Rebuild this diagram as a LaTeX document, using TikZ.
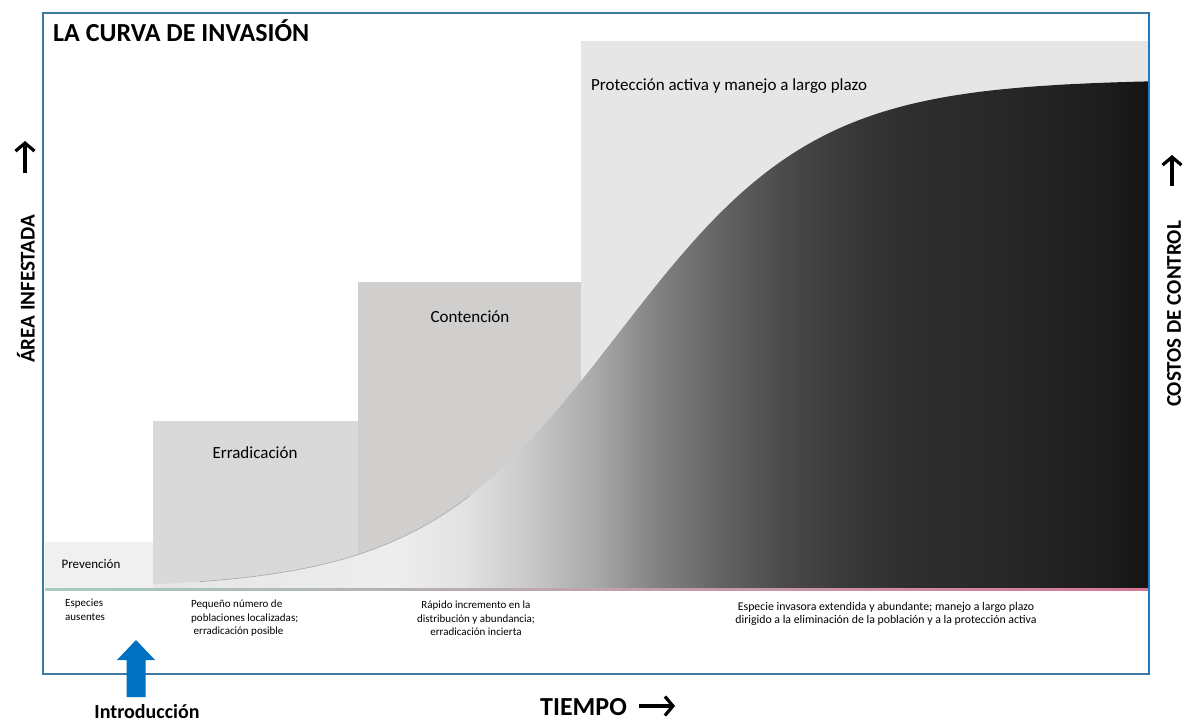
\documentclass[tikz,border=0pt]{standalone}
\usepackage{fontspec}
\setmainfont{Carlito}
\usetikzlibrary{arrows.meta}
\definecolor{frameblue}{RGB}{60,122,160}
\definecolor{rightblue}{RGB}{31,119,200}
\definecolor{introblue}{RGB}{0,112,192}
\definecolor{prevgray}{RGB}{240,240,240}
\definecolor{errgray}{RGB}{217,217,217}
\definecolor{contgray}{RGB}{208,207,206}
\definecolor{protgray}{RGB}{230,230,230}
\definecolor{sepleft}{RGB}{165,205,190}
\definecolor{sepmid}{RGB}{205,225,140}
\definecolor{sepright}{RGB}{215,120,150}
\pgfdeclarehorizontalshading{invasion}{100bp}{gray(0bp)=(0.90); gray(25bp)=(0.90); gray(37.3bp)=(0.93); gray(40.5bp)=(0.89); gray(43.8bp)=(0.79); gray(47.05bp)=(0.67); gray(50.3bp)=(0.51); gray(53.5bp)=(0.39); gray(56.75bp)=(0.29); gray(60bp)=(0.22); gray(63.25bp)=(0.18); gray(66.5bp)=(0.16); gray(69.7bp)=(0.14); gray(73bp)=(0.11); gray(75bp)=(0.08); gray(100bp)=(0.08)}
\tikzset{
  titlefont/.style={inner sep=0pt, font=\bfseries\fontsize{26}{30}\selectfont},
  stagefont/.style={inner sep=0pt, font=\fontsize{17}{20}\selectfont},
  prevfont/.style={inner sep=0pt, font=\fontsize{13}{15}\selectfont},
  smallfont/.style={inner sep=0pt, font=\fontsize{11}{13.5}\selectfont},
  axisfont/.style={inner sep=0pt, font=\bfseries\fontsize{21}{25}\selectfont},
  blackarrow/.style={line width=3.2pt, -{Straight Barb[length=8pt,width=19pt]}},
}
\begin{document}
\begin{tikzpicture}[x=1pt,y=-1pt]
\useasboundingbox (0,0) rectangle (1188,723);
% stage boxes
\fill[protgray] (581,41) rectangle (1148,589);
\fill[contgray] (358,282) rectangle (581,589);
\fill[errgray] (153,421) rectangle (358,589);
\fill[prevgray] (45,542) rectangle (153,589);
% invasion curve
\shade[shading=invasion] (153,589) -- plot[domain=153:1148,samples=160,variable=\t] ({\t},{589-510/(1+exp(-0.0101*(\t-618)))}) -- (1148,589) -- cycle;
\draw[gray!70, line width=0.6pt] plot[domain=200:470,samples=60,variable=\t] ({\t},{589-510/(1+exp(-0.0101*(\t-618)))});
% separator
\shade[left color=sepleft, middle color=sepmid, right color=sepright] (45,588) rectangle (1148,590.5);
% frame
\draw[frameblue, line width=1.6pt] (43,13) rectangle (1149,674);
\draw[rightblue, line width=2pt] (1149,13) -- (1149,674);
% texts
\node[titlefont, anchor=base west] (title) at (53,41) {LA CURVA DE INVASIÓN};
\node[stagefont, anchor=base west] (prot) at (591,90) {Protección activa y manejo a largo plazo};
\node[stagefont, anchor=base] (cont) at (470,322) {Contención};
\node[stagefont, anchor=base] (erra) at (255,458) {Erradicación};
\node[prevfont, anchor=base] (prev) at (91,568) {Prevención};
\node[smallfont, anchor=north west, align=left] (esp) at (65,599) {Especies\\ausentes};
\node[smallfont, anchor=north west, align=left] (peq) at (191,600) {Pequeño número de\\poblaciones localizadas;\\\ erradicación posible};
\node[smallfont, anchor=north, align=center] (rap) at (476,601) {Rápido incremento en la\\distribución y abundancia;\\erradicación incierta};
\node[smallfont, font=\fontsize{11.8}{13.5}\selectfont, anchor=north, align=center] (exte) at (886,602) {Especie invasora extendida y abundante; manejo a largo plazo\\dirigido a la eliminación de la población y a la protección activa};
% introduction arrow
\fill[introblue] (126.5,697) -- (126.5,660) -- (117,660) -- (136,640) -- (155,660) -- (145.5,660) -- (145.5,697) -- cycle;
\node[axisfont, font=\bfseries\fontsize{20}{24}\selectfont, anchor=base] (intro) at (147,718) {Introducción};
% axes labels
\node[axisfont, font=\bfseries\fontsize{26}{30}\selectfont, anchor=base west] (tiempo) at (540,715) {TIEMPO};
\coordinate (tA) at ([xshift=12pt]tiempo.east |- 0,706);
\coordinate (tB) at ([xshift=48pt]tiempo.east |- 0,706);
\draw[blackarrow] (tA) -- (tB);
\node[axisfont, rotate=90] (area) at (26,289) {ÁREA INFESTADA};
\coordinate (aA) at (25,173);
\coordinate (aB) at (25,141);
\draw[blackarrow] (aA) -- (aB);
\node[axisfont, rotate=90] (cost) at (1174,314) {COSTOS DE CONTROL};
\coordinate (cA) at (1172,186);
\coordinate (cB) at (1172,155);
\draw[blackarrow] (cA) -- (cB);
\end{tikzpicture}
\end{document}
